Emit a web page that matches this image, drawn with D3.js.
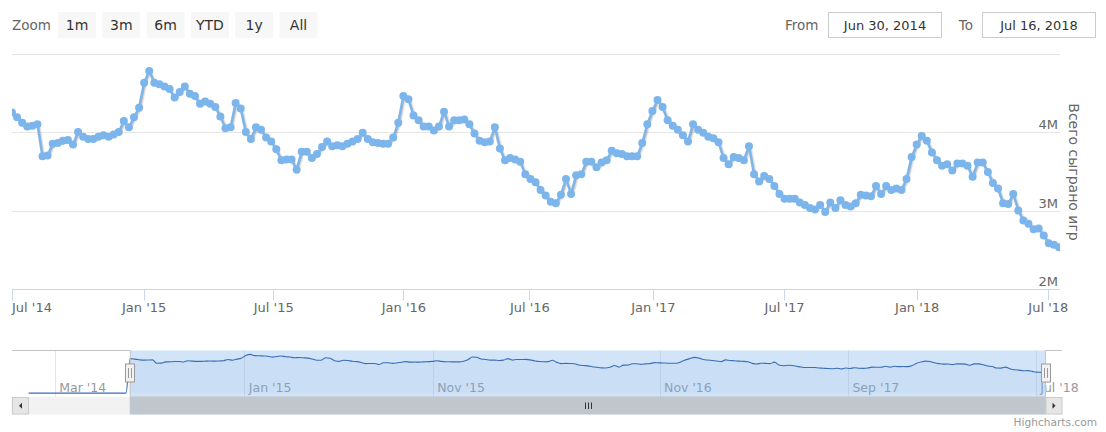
<!DOCTYPE html>
<html><head><meta charset="utf-8">
<script src="https://cdn.jsdelivr.net/npm/d3@7/dist/d3.min.js"></script>
<style>
body{margin:0;background:#fff}
svg{display:block}
text{font-family:"DejaVu Sans",Verdana,sans-serif}
</style>
</head><body>
<svg id="c" width="1106" height="432"></svg>
<script>
// ---- data (values in millions of games played, weekly, ordinal axis) ----
const values = [
4.26,4.20,4.13,4.08,4.09,4.11,3.70,3.71,3.86,3.87,
3.90,3.91,3.85,4.01,3.95,3.92,3.92,3.95,3.97,3.95,
3.98,4.01,4.15,4.07,4.20,4.32,4.64,4.79,4.64,4.62,
4.59,4.56,4.45,4.52,4.59,4.50,4.47,4.37,4.40,4.37,
4.33,4.21,4.06,4.07,4.38,4.31,4.01,3.92,4.07,4.04,
3.94,3.89,
3.79,3.65,3.66,3.66,3.53,3.76,3.76,3.68,3.73,3.82,
3.89,3.83,3.84,3.83,3.86,3.89,3.92,4.00,3.92,3.88,
3.87,3.86,3.86,3.94,4.13,4.47,4.43,4.22,4.16,4.08,
4.08,4.03,4.08,4.27,4.08,4.16,4.16,4.17,4.11,3.99,
3.90,3.88,3.89,4.07,3.80,3.65,3.68,3.66,3.63,3.47,
3.41,3.37,3.27,3.20,3.12,3.10,3.21,3.41,3.22,3.46,
3.47,3.63,3.63,3.56,3.62,3.65,3.77,3.74,3.73,3.70,
3.70,3.70,3.87,4.11,4.28,4.42,4.33,4.16,4.09,4.04,
3.97,3.89,4.11,4.04,4.00,3.95,3.93,3.88,3.68,3.60,
3.69,3.68,3.65,3.83,3.47,3.38,3.45,3.41,3.32,3.22,
3.16,
3.16,3.16,3.11,3.08,3.04,3.02,3.08,2.99,3.11,3.04,
3.14,3.08,3.06,3.10,3.21,3.20,3.19,3.32,3.22,3.32,
3.27,3.29,3.27,3.41,3.69,3.85,3.96,3.90,3.75,3.65,
3.58,3.60,3.52,3.61,3.61,3.58,3.44,3.62,3.62,3.50,
3.36,3.29,3.10,3.09,3.22,3.01,2.88,2.84,2.77,2.78,
2.69,2.59,2.57,2.54
];
const firstDate = "2014-06-30";
const lastDate = "2018-07-16";
// x-axis ticks (ordinal axis: position given as point index)
const tickLabels = ["Jul '14","Jan '15","Jul '15","Jan '16","Jul '16","Jan '17","Jul '17","Jan '18","Jul '18"];
const tickIndex  = [0, 26.0, 51.5, 77.1, 101.9, 126.2, 152.0, 178.1, 203.9];
// y-axis
const yTickValues = [2, 3, 4];
const yGridValues = [3, 4, 5];
const yTitle = "Всего сыграно игр";
// range selector
const rangeButtons = ["1m","3m","6m","YTD","1y","All"];
const fromText = "Jun 30, 2014";
const toText = "Jul 16, 2018";
// navigator
const navTickDates  = ["2014-03-01","2015-01-01","2015-11-01","2016-11-01","2017-09-01","2018-07-01"];
const navTickLabels = ["Mar '14","Jan '15","Nov '15","Nov '16","Sep '17","Jul '18"];
const navPreDates  = ["2014-01-17","2014-06-23"];
const navPreValues = [0, 0];

// ---- layout ----
const svg = d3.select("#c");
const P = {left:12, right:1060, top:54.5, bottom:289.5};
const n = values.length;
const x = d3.scaleLinear().domain([0, n-1]).range([P.left, 1059]);
const y = d3.scaleLinear().domain([2, 5]).range([P.bottom, P.top]);
const crisp = v => Math.floor(v) + 0.5;

// grid lines
svg.append("g").selectAll("line").data(yGridValues).join("line")
  .attr("x1", P.left).attr("x2", P.right)
  .attr("y1", d => crisp(y(d))).attr("y2", d => crisp(y(d)))
  .attr("stroke", "#e6e6e6").attr("stroke-width", 1);

// y labels (right side)
svg.append("g").selectAll("text").data(yTickValues).join("text")
  .attr("x", 1058).attr("y", d => crisp(y(d)) - 3.5)
  .attr("text-anchor", "end").attr("font-size", 13).attr("fill", "#666")
  .text(d => d + "M");

// y title
svg.append("text")
  .attr("transform", `translate(1074,${(P.top+P.bottom)/2}) rotate(90)`)
  .attr("text-anchor", "middle").attr("dominant-baseline", "central")
  .attr("font-size", 14).attr("fill", "#666").text(yTitle);

// x axis
svg.append("line").attr("x1", P.left).attr("x2", P.right)
  .attr("y1", P.bottom).attr("y2", P.bottom).attr("stroke", "#ccd6eb");
const xt = svg.append("g");
xt.selectAll("line").data(tickIndex).join("line")
  .attr("x1", d => crisp(x(d))).attr("x2", d => crisp(x(d)))
  .attr("y1", P.bottom).attr("y2", P.bottom + 11)
  .attr("stroke", "#ccd6eb");
xt.selectAll("text").data(tickLabels).join("text")
  .attr("x", (d,i) => i === 0 ? P.left : x(tickIndex[i]))
  .attr("y", 311.5)
  .attr("text-anchor", (d,i) => i === 0 ? "start" : "middle")
  .attr("font-size", 13).attr("fill", "#666").text(d => d);

// series
const defs = svg.append("defs");
defs.append("clipPath").attr("id", "plotClip").append("rect")
  .attr("x", P.left).attr("y", 20).attr("width", P.right - P.left).attr("height", 300);
const g = svg.append("g").attr("clip-path", "url(#plotClip)");
const line = d3.line().x((d,i) => x(i)).y(d => y(d));
[[5,0.05],[3,0.1],[1,0.15]].forEach(([w,o]) => {
  g.append("path").attr("d", line(values)).attr("fill","none")
    .attr("stroke","#000").attr("stroke-opacity",o).attr("stroke-width",w)
    .attr("stroke-linejoin","round").attr("stroke-linecap","round")
    .attr("transform","translate(1,1)");
});
g.append("path").attr("d", line(values)).attr("fill","none")
  .attr("stroke","#7cb5ec").attr("stroke-width",2.4)
  .attr("stroke-linejoin","round").attr("stroke-linecap","round");
g.append("g").selectAll("circle").data(values).join("circle")
  .attr("cx", (d,i) => x(i)).attr("cy", d => y(d)).attr("r", 4)
  .attr("fill", "#7cb5ec");

// ---- range selector ----
svg.append("text").attr("x", 12).attr("y", 25).attr("dominant-baseline","central")
  .attr("font-size", 13.5).attr("fill", "#666").text("Zoom");
const bx = d3.scaleLinear().domain([0,1]).range([58, 102.3]);
const bg = svg.append("g").selectAll("g").data(rangeButtons).join("g")
  .attr("transform", (d,i) => `translate(${bx(i)},12)`);
bg.append("rect").attr("width", 38).attr("height", 26).attr("fill", "#f7f7f7");
bg.append("text").attr("x", 19).attr("y", 13).attr("text-anchor","middle")
  .attr("dominant-baseline","central").attr("font-size", 14).attr("fill","#333")
  .text(d => d);

function inputBox(label, lx, boxX, txt){
  svg.append("text").attr("x", lx).attr("y", 25).attr("text-anchor","end")
    .attr("dominant-baseline","central").attr("font-size", 13.5).attr("fill","#666").text(label);
  svg.append("rect").attr("x", boxX+0.5).attr("y", 12.5).attr("width", 113).attr("height", 25)
    .attr("fill","#fff").attr("stroke","#ccc");
  svg.append("text").attr("x", boxX+57).attr("y", 25).attr("text-anchor","middle")
    .attr("dominant-baseline","central").attr("font-size", 13).attr("fill","#333").text(txt);
}
inputBox("From", 818.5, 828, fromText);
inputBox("To", 973, 982, toText);

// ---- navigator ----
const NT = 350.5, NB = 397;
const parse = d3.utcParse("%Y-%m-%d");
const nx = d3.scaleUtc().domain([parse(navPreDates[0]), parse(lastDate)]).range([28.6, 1045.5]);
const ny = d3.scaleLinear().domain([-0.479, 5.269]).range([NB, NT]);
const nIdx = d3.scaleLinear().domain([0, n-1]).range([nx(parse(firstDate)), nx(parse(lastDate))]);

const navG = svg.append("g");
navG.selectAll("line").data(navTickDates).join("line")
  .attr("x1", d => crisp(nx(parse(d)))).attr("x2", d => crisp(nx(parse(d))))
  .attr("y1", NT).attr("y2", NB).attr("stroke", "#e6e6e6");
navG.selectAll("text").data(navTickLabels).join("text")
  .attr("x", (d,i) => nx(parse(navTickDates[i])) + 4).attr("y", 392)
  .attr("font-size", 12.5).attr("fill", "#999").text(d => d);

const navPts = navPreDates.map((d,i) => [nx(parse(d)), navPreValues[i]])
  .concat(values.map((v,i) => [nIdx(i), v]));
const navArea = d3.area().curve(d3.curveMonotoneX).x(d => d[0]).y0(ny(0)).y1(d => ny(d[1]));
const navLine = d3.line().curve(d3.curveMonotoneX).x(d => d[0]).y(d => ny(d[1]));
navG.append("path").attr("d", navArea(navPts)).attr("fill", "#335cad").attr("fill-opacity", 0.05);

const selL = nIdx(0), selR = nIdx(n-1);
navG.append("rect").attr("x", selL).attr("y", NT).attr("width", selR - selL).attr("height", NB - NT)
  .attr("fill", "rgba(128,179,236,0.36)");
navG.append("path").attr("d", navLine(navPts)).attr("fill", "none").attr("stroke", "#3a6db5").attr("stroke-width", 1.1);
navG.append("path")
  .attr("d", `M12,${NT} H${selL} V${NB} H${selR} V${NT} H1062`)
  .attr("fill", "none").attr("stroke", "#c4c4c4").attr("stroke-width", 1);

// handles
[selL, selR].forEach(hx => {
  const cx = Math.round(hx);
  navG.append("rect").attr("x", cx - 4.5).attr("y", 364).attr("width", 9).attr("height", 18)
    .attr("fill", "#f2f2f2").attr("stroke", "#999");
  [-1.5, 1.5].forEach(o => navG.append("line").attr("x1", cx + o).attr("x2", cx + o)
    .attr("y1", 368).attr("y2", 378).attr("stroke", "#999"));
});

// scrollbar
const ST = 397.5, SH = 16.5;
navG.append("rect").attr("x", 12).attr("y", ST).attr("width", 1050).attr("height", SH)
  .attr("fill", "#f2f2f2").attr("stroke", "#f2f2f2");
navG.append("rect").attr("x", selL).attr("y", ST).attr("width", selR - selL).attr("height", SH)
  .attr("fill", "#c0c6ce").attr("stroke", "#c0c6ce");
const gripX = (selL + selR) / 2;
[-3, 0, 3].forEach(o => navG.append("line").attr("x1", Math.round(gripX + o) + 0.5)
  .attr("x2", Math.round(gripX + o) + 0.5).attr("y1", ST + 5).attr("y2", ST + SH - 5)
  .attr("stroke", "#333"));
[[12, -1], [1045.5, 1]].forEach(([bxx, dir]) => {
  navG.append("rect").attr("x", bxx + 0.5).attr("y", ST).attr("width", 16).attr("height", SH)
    .attr("fill", "#e6e6e6").attr("stroke", "#ccc");
  const cx = bxx + 8.5, cy = ST + SH / 2;
  navG.append("path").attr("d", dir < 0
      ? `M${cx+1.5},${cy-3} L${cx-1.5},${cy} L${cx+1.5},${cy+3} Z`
      : `M${cx-1.5},${cy-3} L${cx+1.5},${cy} L${cx-1.5},${cy+3} Z`)
    .attr("fill", "#333");
});

// credits
svg.append("text").attr("x", 1097).attr("y", 426).attr("text-anchor", "end")
  .attr("font-size", 10.6).attr("fill", "#999").text("Highcharts.com");
</script>
</body></html>
